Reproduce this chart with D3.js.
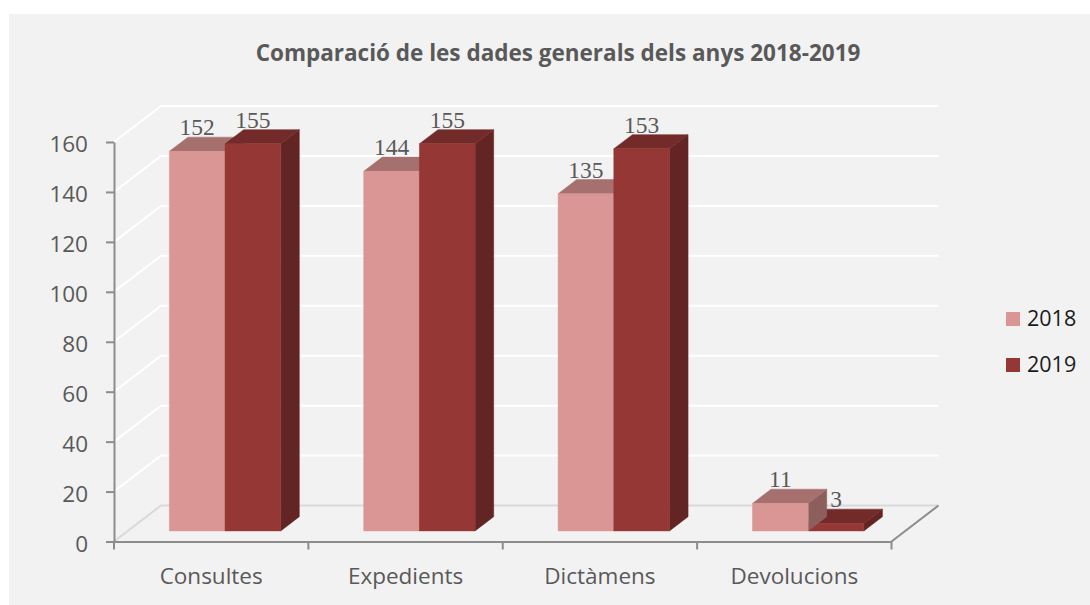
<!DOCTYPE html>
<html>
<head>
<meta charset="utf-8">
<script src="https://cdn.jsdelivr.net/npm/d3@7"></script>
<style>
	html, body { margin: 0; padding: 0; background: #fff; }
	svg { display: block; }
	.axis text { font-family: "Open Sans", sans-serif; fill: #595959; }
	.axis path, .axis line { stroke: #8c8c8c; stroke-width: 2; }
</style>
</head>
<body>
<svg id="chart" width="1090" height="605"></svg>
<script>
// chart values
const categories = ['Consultes', 'Expedients', 'Dictàmens', 'Devolucions'];
const years = ['2018', '2019'];
const values2018 = [152, 144, 135, 11];
const values2019 = [155, 155, 153, 3];
const yTicks = [0, 20, 40, 60, 80, 100, 120, 140, 160];
const chartTitle = 'Comparació de les dades generals dels anys 2018-2019';

const colors = {
	'2018': { front: '#d99694', top: '#a6706e', side: '#8c5f5d' },
	'2019': { front: '#953735', top: '#722b28', side: '#632523' }
};

const svg = d3.select('#chart');

// background panel
svg.append('rect')
	.attr('x', 9)
	.attr('y', 14)
	.attr('width', 1081)
	.attr('height', 591)
	.attr('fill', '#f2f2f2');

// scales for the front plane of the 3d box
const xScale = d3.scaleBand().domain(categories).range([114, 891.5]);
const yScale = d3.scaleLinear().domain([0, 160]).range([541.5, 142]);
const groupInset = (xScale.step() - 111.4) / 2;
const seriesScale = d3.scaleBand().domain(years).range([groupInset, xScale.step() - groupInset]);

// depth of the box, and where the bars sit in it
const boxDepth = { dx: 47, dy: -36 };
const barStart = 0.295;
const barEnd = 0.69;
const project = (x, y, z) => [x + boxDepth.dx * z, y + boxDepth.dy * z];
const polygon = (points) => points.map((p) => p.join(',')).join(' ');

// walls: gridlines run from the axis to the back and then along the back wall
const walls = svg.append('g');
yTicks.forEach((tick) => {
	const y = yScale(tick);
	const back = project(114, y, 1);
	const backEnd = project(xScale.range()[1], y, 1);
	walls.append('polyline')
		.attr('points', polygon([[114, y], back, backEnd]))
		.attr('fill', 'none')
		.attr('stroke', tick === 0 ? '#d9d9d9' : '#ffffff')
		.attr('stroke-width', 2);
});

// floor edge on the right
const floorRight = xScale.range()[1];
svg.append('line')
	.attr('x1', floorRight)
	.attr('y1', yScale(0))
	.attr('x2', project(floorRight, yScale(0), 1)[0])
	.attr('y2', project(floorRight, yScale(0), 1)[1])
	.attr('stroke', '#8c8c8c')
	.attr('stroke-width', 2);

// axes
const yAxis = svg.append('g')
	.attr('class', 'axis')
	.attr('transform', 'translate(114,0)')
	.call(d3.axisLeft(yScale).tickValues(yTicks).tickSize(8).tickSizeOuter(0).tickPadding(18));
yAxis.selectAll('text')
	.attr('dy', null)
	.attr('y', 9.8)
	.style('font-size', '22.5px');

const xAxis = svg.append('g')
	.attr('class', 'axis')
	.attr('transform', 'translate(0,' + yScale(0) + ')')
	.call(d3.axisBottom(xScale).tickSize(0).tickSizeOuter(0));
xAxis.selectAll('text')
	.attr('dy', null)
	.attr('y', 42.5)
	.style('font-size', '22.5px');

// category separators sit on the band edges
xAxis.selectAll('.separator')
	.data(categories.concat(null))
	.enter()
	.append('line')
	.attr('class', 'separator')
	.attr('x1', (d, i) => xScale.range()[0] + i * xScale.step())
	.attr('x2', (d, i) => xScale.range()[0] + i * xScale.step())
	.attr('y1', 0)
	.attr('y2', 8);

// bars, the shorter one of a pair first so the taller one overlaps it
const seriesValues = { '2018': values2018, '2019': values2019 };
const bars = svg.append('g');
const labelData = [];

categories.forEach((category, i) => {
	const pair = years
		.map((year) => ({ year: year, value: seriesValues[year][i] }))
		.sort((a, b) => a.value - b.value);

	pair.forEach((d) => {
		const left = xScale(category) + seriesScale(d.year);
		const right = left + seriesScale.bandwidth();
		const base = yScale(0);
		const top = yScale(d.value);
		const c = colors[d.year];

		const faces = [
			{
				fill: c.side,
				points: [project(right, base, barStart), project(right, base, barEnd), project(right, top, barEnd), project(right, top, barStart)]
			},
			{
				fill: c.top,
				points: [project(left, top, barStart), project(right, top, barStart), project(right, top, barEnd), project(left, top, barEnd)]
			},
			{
				fill: c.front,
				points: [project(left, base, barStart), project(right, base, barStart), project(right, top, barStart), project(left, top, barStart)]
			}
		];

		const group = bars.append('g');
		faces.forEach((face) => {
			group.append('polygon')
				.attr('points', polygon(face.points))
				.attr('fill', face.fill)
				.attr('stroke', face.fill)
				.attr('stroke-width', 0.5);
		});

		const labelAnchor = project(left, top, barEnd);
		labelData.push({
			text: d.value,
			x: project((left + right) / 2, top, barStart)[0],
			y: labelAnchor[1] - 2
		});
	});
});

// value labels go on top of all the bars
svg.append('g')
	.selectAll('text')
	.data(labelData)
	.enter()
	.append('text')
	.text((d) => d.text)
	.attr('x', (d) => d.x)
	.attr('y', (d) => d.y)
	.attr('text-anchor', 'middle')
	.style('font-family', '"Liberation Serif", serif')
	.style('font-size', '23.5px')
	.style('fill', '#595959');

// title
svg.append('text')
	.text(chartTitle)
	.attr('x', 558)
	.attr('y', 61)
	.attr('text-anchor', 'middle')
	.style('font-family', '"Open Sans", sans-serif')
	.style('font-weight', 700)
	.style('font-size', '22.5px')
	.style('fill', '#595959');

// legend
const legend = svg.append('g')
	.selectAll('g')
	.data(years)
	.enter()
	.append('g')
	.attr('transform', (d, i) => 'translate(1006,' + (312 + i * 46) + ')');

legend.append('rect')
	.attr('width', 14)
	.attr('height', 14)
	.attr('fill', (d) => colors[d].front);

legend.append('text')
	.text((d) => d)
	.attr('x', 21)
	.attr('y', 14)
	.style('font-family', '"Open Sans", sans-serif')
	.style('font-size', '21.5px')
	.style('fill', '#1a1a1a');
</script>
</body>
</html>
